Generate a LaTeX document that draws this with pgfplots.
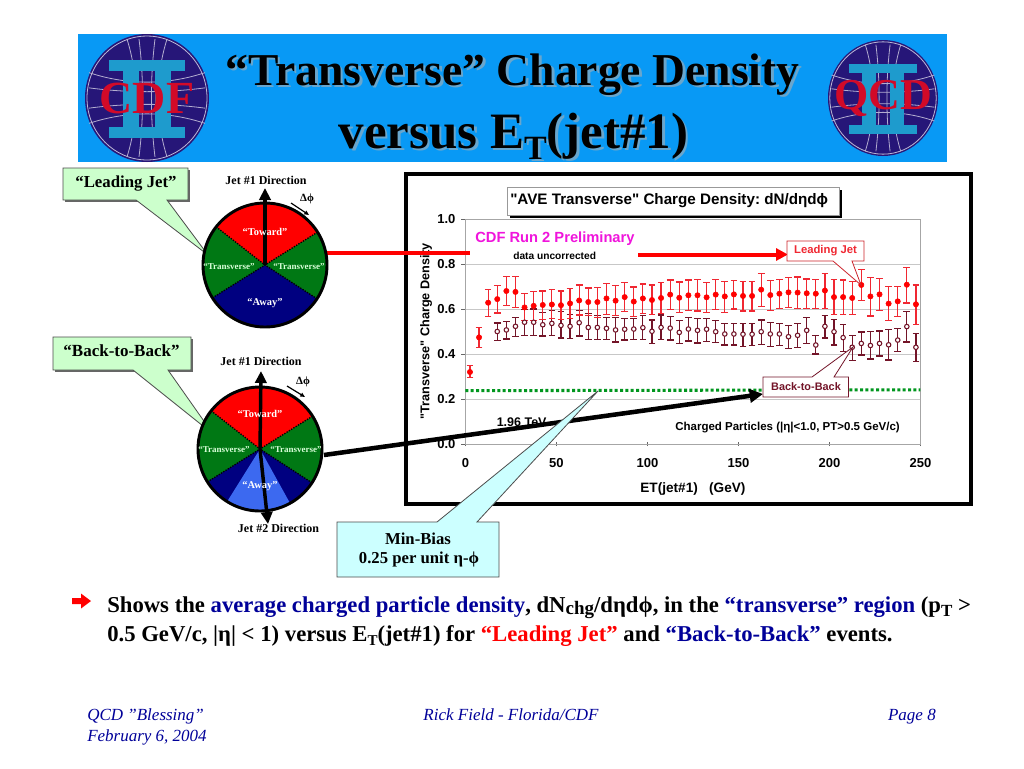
\documentclass[border=0pt]{standalone}
\usepackage{pgfplots}
\usepackage{pgfplotstable}
\usepackage{fontspec}
\pgfplotsset{compat=1.18}
\usetikzlibrary{arrows.meta}
\setmainfont{Liberation Serif}
\newfontfamily\arial{Liberation Sans}
\definecolor{headblue}{RGB}{8,153,245}
\definecolor{logonavy}{RGB}{38,22,120}
\definecolor{logocyan}{RGB}{30,155,205}
\definecolor{logored}{RGB}{210,10,40}
\definecolor{callgreen}{RGB}{204,255,204}
\definecolor{callcyan}{RGB}{204,255,255}
\definecolor{wheelgreen}{RGB}{0,120,20}
\definecolor{wheelnavy}{RGB}{0,0,128}
\definecolor{wheelblue}{RGB}{60,105,240}
\definecolor{ljred}{RGB}{240,40,50}
\definecolor{btbred}{RGB}{115,20,40}
\definecolor{navytext}{RGB}{0,0,153}
\definecolor{mbgreen}{RGB}{0,150,30}
\definecolor{cdfpink}{RGB}{240,20,220}
\newcommand{\px}[1]{\fontsize{\dimexpr#1pt*3/4\relax}{\dimexpr#1pt*9/10\relax}\selectfont}
\tikzset{pix/.style={x=.75pt,y=-.75pt}}

% ET bin centre, mean, top and bottom of the error bar
\pgfplotstableread{
x y hi lo
2.5 .320 .350 .295
7.5 .474 .517 .430
12.5 .628 .685 .568
17.5 .644 .705 .582
22.5 .680 .744 .615
27.5 .676 .744 .606
32.5 .607 .670 .548
37.5 .614 .678 .548
42.5 .618 .680 .554
47.5 .620 .685 .558
52.5 .617 .680 .552
57.5 .625 .690 .558
62.5 .638 .707 .573
67.5 .631 .693 .570
72.5 .631 .695 .563
77.5 .647 .715 .576
82.5 .637 .705 .570
87.5 .653 .718 .589
92.5 .633 .698 .566
97.5 .647 .711 .581
102.5 .640 .707 .576
107.5 .649 .718 .581
112.5 .664 .729 .598
117.5 .650 .720 .585
122.5 .661 .729 .593
127.5 .661 .732 .591
132.5 .652 .719 .585
137.5 .664 .732 .597
142.5 .656 .724 .585
147.5 .665 .727 .600
152.5 .658 .724 .591
157.5 .658 .724 .591
162.5 .686 .759 .612
167.5 .662 .727 .594
172.5 .668 .732 .603
177.5 .674 .741 .605
182.5 .673 .742 .603
187.5 .670 .733 .603
192.5 .668 .732 .603
197.5 .682 .759 .601
202.5 .653 .730 .575
207.5 .653 .729 .576
212.5 .649 .723 .575
217.5 .707 .776 .637
222.5 .656 .741 .569
227.5 .665 .736 .593
232.5 .624 .700 .548
237.5 .634 .700 .566
242.5 .708 .785 .627
247.5 .621 .707 .532
}\leadingjet

\pgfplotstableread{
x y hi lo
17.5 .500 .538 .459
22.5 .507 .546 .467
27.5 .523 .562 .477
32.5 .541 .598 .483
37.5 .541 .600 .482
42.5 .530 .585 .480
47.5 .536 .592 .482
52.5 .527 .588 .471
57.5 .523 .576 .468
62.5 .539 .595 .480
67.5 .518 .581 .465
72.5 .518 .570 .465
77.5 .514 .562 .465
82.5 .507 .562 .453
87.5 .510 .557 .462
92.5 .511 .559 .464
97.5 .517 .570 .464
102.5 .501 .551 .447
107.5 .518 .573 .465
112.5 .515 .568 .462
117.5 .496 .548 .445
122.5 .511 .563 .458
127.5 .505 .558 .449
132.5 .510 .558 .456
137.5 .499 .550 .452
142.5 .489 .536 .440
147.5 .489 .536 .440
152.5 .488 .536 .434
157.5 .488 .536 .437
162.5 .499 .551 .443
167.5 .489 .539 .435
172.5 .489 .536 .437
177.5 .477 .527 .425
182.5 .483 .536 .430
187.5 .505 .561 .446
192.5 .440 .483 .400
197.5 .523 .572 .471
202.5 .499 .554 .440
207.5 .473 .532 .410
212.5 .430 .484 .370
217.5 .447 .498 .396
222.5 .438 .501 .378
227.5 .447 .502 .391
232.5 .441 .509 .373
237.5 .462 .514 .410
242.5 .522 .590 .453
247.5 .430 .492 .366
}\backtoback

% title text with the pale drop shadow
\newcommand{\shadowtext}[4]{%
  \node[anchor=base,inner sep=0,text=black!30!headblue!60!white] at (#1+2.5,#2+2.5) {\px{#3}\bfseries #4};
  \node[anchor=base,inner sep=0,text=black] at (#1,#2) {\px{#3}\bfseries #4};}

% logo: centre x, y, radii, red letters, letter size
\newcommand{\logo}[6]{%
  \begin{scope}[shift={(#1,#2)},xscale=#3/62,yscale=#4/63]
    \fill[logonavy] (0,0) ellipse (62 and 63);
    \draw[white!70!logonavy,line width=.6pt] (0,0) ellipse (60 and 61);
    \foreach \yy in {-25,-10,10,25}
      \draw[white!65!logonavy,line width=.6pt] (-58,\yy) .. controls (-20,\yy*.5) and (20,\yy*.5) .. (58,\yy);
    \foreach \xx in {-20,-8,8,20}
      \draw[white!65!logonavy,line width=.6pt] (\xx,-58) .. controls (\xx*.4,-20) and (\xx*.4,20) .. (\xx,58);
    \fill[logocyan] (-38,-37) rectangle (38,-27);
    \fill[logocyan] (-38,29) rectangle (38,39);
    \fill[logocyan] (-24,-37) rectangle (-8,39);
    \fill[logocyan] (8,-37) rectangle (24,39);
  \end{scope}
  \node[inner sep=0,text=logored] at (#1,#2) {\px{#6}\bfseries #5};}

% wheel at centre x, y; angles run as usual, so y is turned back up here
\newcommand{\wheel}[2]{%
  \begin{scope}[shift={(#1,#2)},yscale=-1]
    \fill[wheelgreen] (0,0) circle (62);
    \fill[red] (0,0) -- (32:62) arc[start angle=32,delta angle=110,radius=62] -- cycle;
    \fill[wheelnavy] (0,0) -- (212:62) arc[start angle=212,delta angle=115,radius=62] -- cycle;
  \end{scope}}
\newcommand{\wheeltop}[2]{%
  \begin{scope}[shift={(#1,#2)},yscale=-1]
    \draw[black,line width=1pt,densely dotted] (142:62) -- (0,0) -- (32:62);
    \draw[black,line width=1pt,densely dotted] (212:62) -- (0,0) -- (327:62);
    \draw[black,line width=2.2pt] (0,0) circle (62);
  \end{scope}}

\begin{document}
\frenchspacing
\begin{tikzpicture}
\begin{scope}[pix]
  \path[use as bounding box,fill=white] (0,0) rectangle (1024,768);
  % banner
  \fill[headblue] (78,34) rectangle (947,162);
  \logo{147}{98}{62}{64}{CDF}{46}
  \logo{883}{98}{55}{58}{QCD}{44}
  \shadowtext{512.5}{85}{45.6}{“Transverse” Charge Density}
  \shadowtext{513.5}{148}{51}{versus E\raisebox{-.22em}{\px{34}T}(jet\#1)}
  % chart frame
  \draw[black,line width=2.4pt,fill=white] (406,174) rectangle (971,504);
\end{scope}

\begin{axis}[
    at={(349.05pt,-333pt)},
    anchor=south west,
    scale only axis,
    width=341.3pt,
    height=168.75pt,
    xmin=0, xmax=250,
    ymin=0, ymax=1,
    xtick={0,50,...,250},
    ytick={0,0.2,...,1.0},
    tick pos=left,
    yticklabel style={/pgf/number format/.cd,fixed,fixed zerofill,precision=1},
    /pgf/number format/assume math mode=true,
    tick label style={font=\arial\bfseries\px{13}},
    xlabel style={font=\arial\bfseries\px{13.6}},
    ylabel style={font=\arial\bfseries\px{12.7}},
    ymajorgrids,
    grid style={draw=black!22,line width=.5pt},
    axis line style={draw=black!35,line width=.6pt},
    tick style={draw=black!60,line width=.6pt},
    major tick length=3pt,
    xtick align=center,
    ytick align=outside,
    xticklabel shift=6pt,
    yticklabel shift=1pt,
    xlabel={ET(jet\#1)\ \ \ (GeV)},
    ylabel={"Transverse" Charge Density},
    xlabel shift=4pt,
    ylabel shift=-3pt,
]
\addplot[mbgreen,line width=2.3pt,dash pattern=on 2.2pt off 1.8pt,forget plot]
    coordinates {(0,.237) (250,.241)};
\addplot[only marks,mark=*,mark size=1.7pt,mark options={draw=btbred,fill=white,line width=.8pt},
    error bars/.cd,y dir=both,y explicit,error mark options={rotate=90,mark size=2.5pt,line width=.9pt,btbred},
    error bar style={draw=btbred,line width=.9pt}]
    table[x=x,y=y,y error plus expr=\thisrow{hi}-\thisrow{y},y error minus expr=\thisrow{y}-\thisrow{lo}] {\backtoback};
\addplot[only marks,mark=*,mark size=2pt,mark options={draw=red,fill=red},
    error bars/.cd,y dir=both,y explicit,error mark options={rotate=90,mark size=2.5pt,line width=.9pt,ljred},
    error bar style={draw=ljred,line width=.9pt}]
    table[x=x,y=y,y error plus expr=\thisrow{hi}-\thisrow{y},y error minus expr=\thisrow{y}-\thisrow{lo}] {\leadingjet};
\end{axis}

\begin{scope}[pix]
  % chart title with its black edge
  \fill[black] (510,190) rectangle (842,218);
  \fill[white,draw=black!40,line width=.4pt] (507,187) rectangle (839,215);
  \node[anchor=west,inner sep=0] at (510,201) {\arial\bfseries\px{15.2}"AVE Transverse" Charge Density: dN/dηdϕ};
  % notes in the chart
  \fill[white] (470,226) rectangle (638,264);
  \node[anchor=west,inner sep=0,text=cdfpink] at (475,239) {\arial\bfseries\px{14.7}CDF Run 2 Preliminary};
  \node[anchor=west,inner sep=0] at (513,256) {\arial\bfseries\px{10.2}data uncorrected};
  \node[anchor=west,inner sep=0] at (496.5,422) {\arial\bfseries\px{12.5}1.96 TeV};
  \node[anchor=east,inner sep=0] at (900,428) {\arial\bfseries\px{11.5}Charged Particles (|η|<1.0, PT>0.5 GeV/c)};
  % red and black connectors
  \draw[red,line width=3pt] (325,253) -- (470,253);
  \draw[red,line width=3pt,-{Triangle[length=9pt,width=9pt]}] (638,254.5) -- (788,254.5);
  \draw[black,line width=3.4pt,-{Triangle[length=10pt,width=10pt]}] (324,455) -- (763,394);
  % labels on the curves
  \filldraw[fill=white,draw=ljred!85!black,line width=.6pt] (787,241) -- (864,241) -- (864,261) -- (852,261) -- (861,285) -- (833,261) -- (787,261) -- cycle;
  \node[inner sep=0,text=ljred] at (825.5,251) {\arial\bfseries\px{11.3}Leading Jet};
  \filldraw[fill=white,draw=btbred,line width=.6pt] (763,377) -- (812,377) -- (853,347) -- (834,377) -- (848.5,377) -- (848.5,397) -- (763,397) -- cycle;
  \node[inner sep=0,text=btbred] at (806,387) {\arial\bfseries\px{10.9}Back-to-Back};
  % min-bias callout
  \filldraw[fill=callcyan,draw=black!70,line width=.6pt] (337,522) -- (437,522) -- (598,391) -- (477,522) -- (499,522) -- (499,577) -- (337,577) -- cycle;
  \node[inner sep=0] at (418,539) {\bfseries\px{16.7}Min-Bias};
  \node[inner sep=0] at (419,559.5) {\bfseries\px{16.7}0.25 per unit η-ϕ};
  % callouts at the wheels
  \fill[black!60] (64.5,169.5) rectangle (189.5,201.5);
  \filldraw[fill=callgreen,draw=black!70,line width=.6pt] (63,168) -- (188,168) -- (188,200) -- (167,200) -- (208,255) -- (136,200) -- (63,200) -- cycle;
  \node[inner sep=0] at (126,184) {\bfseries\px{16.8}“Leading Jet”};
  \fill[black!60] (54.5,338.5) rectangle (192.5,371.5);
  \filldraw[fill=callgreen,draw=black!70,line width=.6pt] (53,337) -- (191,337) -- (191,370) -- (168,370) -- (213,434) -- (133,370) -- (53,370) -- cycle;
  \node[inner sep=0] at (121.5,351) {\bfseries\px{17}“Back-to-Back”};
  % leading jet wheel
  \wheel{265}{265}
  \wheeltop{265}{265}
  \draw[black,line width=2.6pt,-{Triangle[length=9pt,width=8.5pt]}] (265,265) -- (265,188);
  \node[inner sep=0] at (266,180.5) {\bfseries\px{12}Jet \#1 Direction};
  \node[inner sep=0] at (307,199) {\bfseries\px{11}Δϕ};
  \draw[black,line width=.9pt,-{Triangle[length=3.5pt,width=3pt]}] (291,203) -- (309,215);
  \node[inner sep=0,text=white] at (265,232) {\bfseries\px{10.4}“Toward”};
  \node[inner sep=0,text=white!85!green] at (229,267) {\bfseries\px{9}“Transverse”};
  \node[inner sep=0,text=white!85!green] at (299,267) {\bfseries\px{9}“Transverse”};
  \node[inner sep=0,text=white] at (265,303) {\bfseries\px{10.4}“Away”};
  % back-to-back wheel
  \wheel{260}{449}
  \fill[wheelblue,shift={(260,449)},yscale=-1] (0,0) -- (238:62) arc[start angle=238,delta angle=61,radius=62] -- cycle;
  \wheeltop{260}{449}
  \draw[black,line width=2.6pt,-{Triangle[length=9pt,width=8.5pt]}] (260,449) -- (261,371);
  \draw[black,line width=2.6pt,-{Triangle[length=9pt,width=8.5pt]}] (260,449) -- (268,524);
  \node[inner sep=0] at (261,361) {\bfseries\px{12}Jet \#1 Direction};
  \node[inner sep=0] at (278.5,528.5) {\bfseries\px{12}Jet \#2 Direction};
  \node[inner sep=0] at (303,382) {\bfseries\px{11}Δϕ};
  \draw[black,line width=.9pt,-{Triangle[length=3.5pt,width=3pt]}] (287,386) -- (305,397);
  \node[inner sep=0,text=white] at (260,414) {\bfseries\px{10.4}“Toward”};
  \node[inner sep=0,text=white!85!green] at (224,450) {\bfseries\px{9}“Transverse”};
  \node[inner sep=0,text=white!85!green] at (296,450) {\bfseries\px{9}“Transverse”};
  \node[inner sep=0,text=white] at (260,486.5) {\bfseries\px{10.4}“Away”};
  % bullet text
  \fill[red] (72,598) -- (81,598) -- (81,593.5) -- (91,601) -- (81,608.5) -- (81,604) -- (72,604) -- cycle;
  \node[anchor=base west,inner sep=0] at (107,612) {\bfseries\px{22.7}Shows the \textcolor{navytext}{average charged particle density}, dN\raisebox{-.1em}{\px{19}chg}/dηdϕ, in the \textcolor{navytext}{“transverse” region} (p\raisebox{-.2em}{\px{17}T} >};
  \node[anchor=base west,inner sep=0] at (107,641) {\bfseries\px{22.7}0.5 GeV/c, |η| < 1) versus E\raisebox{-.2em}{\px{15}T}(jet\#1) for \textcolor{red}{“Leading Jet”} and \textcolor{navytext}{“Back-to-Back”} events.};
  % footer
  \node[anchor=base west,inner sep=0,text=navytext] at (87,720) {\itshape\px{17}QCD "Blessing"};
  \node[anchor=base west,inner sep=0,text=navytext] at (87,741) {\itshape\px{17}February 6, 2004};
  \node[anchor=base,inner sep=0,text=navytext] at (511,720) {\itshape\px{17}Rick Field - Florida/CDF};
  \node[anchor=base east,inner sep=0,text=navytext] at (936,720) {\itshape\px{17}Page 8};
\end{scope}
\end{tikzpicture}
\end{document}
